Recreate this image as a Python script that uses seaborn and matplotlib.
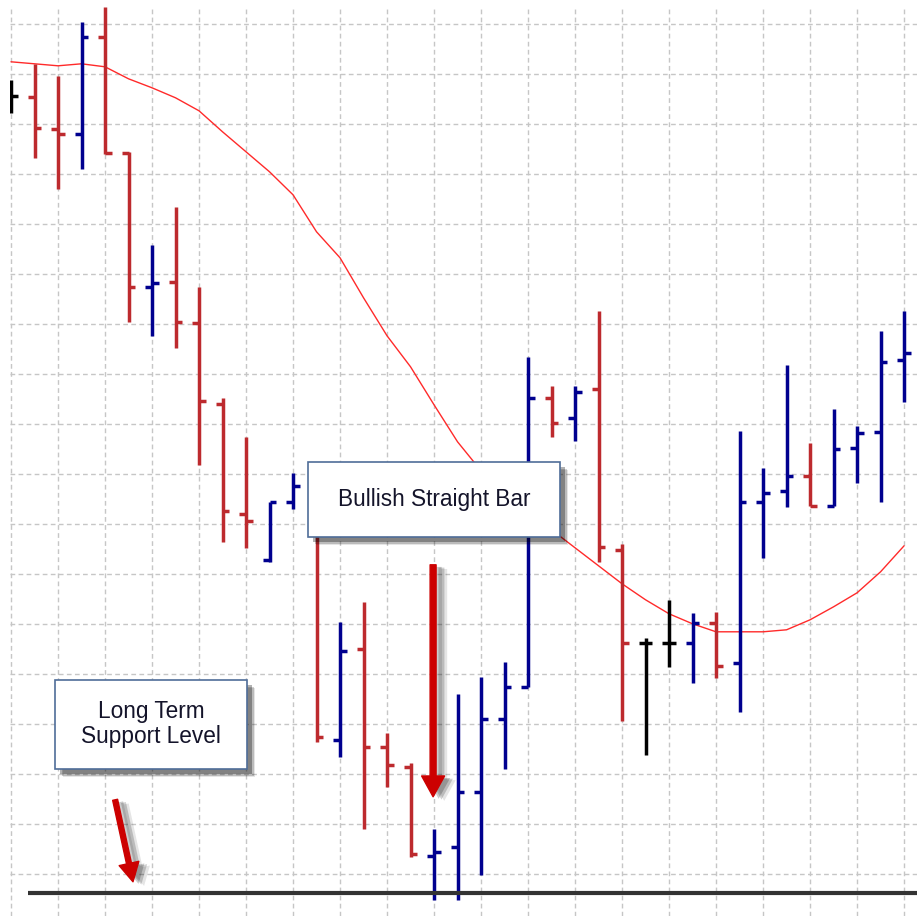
import numpy as np
import pandas as pd
import matplotlib
matplotlib.use("Agg")
import matplotlib.pyplot as plt
import seaborn as sns
from matplotlib.patches import FancyBboxPatch, FancyArrowPatch
import matplotlib.patheffects as pe

# ---------------- data (prices, one entry per bar) ----------------
opens = [115.57, 115.55, 114.91, 114.81, 116.75, 114.43, 111.75, 111.85, 111.03, 109.41,
         107.21, 106.29, 107.45, 107.69, 102.69, 104.51, 102.55, 102.15, 100.37, 100.55,
         101.65, 103.11, 103.75, 109.53, 109.13, 109.71, 106.49, 104.63, 104.63, 104.63,
         105.03, 104.23, 107.45, 107.67, 107.97, 107.37, 108.53, 108.85, 110.29]
highs = [115.89, 116.21, 115.97, 117.05, 117.35, 114.45, 112.59, 113.35, 111.75, 109.53,
         108.75, 107.45, 108.03, 107.89, 105.05, 105.45, 102.83, 102.23, 100.91, 103.61,
         103.95, 104.25, 110.35, 109.77, 109.77, 111.27, 106.61, 104.73, 105.49, 105.23,
         105.25, 108.87, 108.13, 110.19, 108.63, 109.31, 108.97, 110.87, 111.27]
lows = [115.23, 114.33, 113.71, 114.11, 114.41, 111.05, 110.77, 110.53, 108.19, 106.65,
        106.53, 106.25, 107.31, 102.65, 102.35, 100.91, 101.75, 100.35, 99.49, 99.49,
        99.99, 102.11, 103.75, 108.75, 108.67, 106.25, 103.07, 102.39, 104.15, 103.83,
        103.93, 103.25, 106.33, 107.35, 107.37, 107.37, 107.83, 107.45, 109.45]
closes = [115.57, 114.93, 114.81, 116.75, 114.43, 111.75, 111.83, 111.05, 109.47, 107.27,
          107.07, 107.45, 107.77, 102.75, 104.47, 102.55, 102.19, 100.41, 100.45, 101.65,
          103.11, 103.75, 109.53, 109.03, 109.65, 106.55, 104.63, 104.63, 104.63, 105.03,
          104.17, 107.45, 107.63, 107.97, 107.37, 108.51, 108.83, 110.25, 110.43]
moving_avg = [116.25, 116.21, 116.17, 116.21, 116.15, 115.91, 115.73, 115.53, 115.27, 114.85,
              114.45, 114.05, 113.59, 112.85, 112.33, 111.53, 110.77, 110.15, 109.39, 108.65,
              108.07, 107.69, 107.29, 106.89, 106.53, 106.17, 105.81, 105.49, 105.21, 105.01,
              104.85, 104.85, 104.85, 104.89, 105.09, 105.35, 105.63, 106.05, 106.57]

support_level = 99.63
support_start = 0.72

label_bullish = "Bullish Straight Bar"
label_support = "Long Term\nSupport Level"

# annotation placements (bar index, price)
box_bullish = (12.64, 106.75, 23.36, 108.25)
box_support = (1.87, 102.11, 10.04, 103.89)
arrow_bullish = ((17.96, 106.19), (17.96, 101.55))
arrow_support = ((4.43, 101.49), (5.19, 99.85))

# ---------------- styling ----------------
RED = "#BD2A2E"
BLUE = "#00008F"
BLACK = "#000000"
MA_RED = "#FF2A2A"
GRID = "#C6C6C6"
BOX_EDGE = "#4F6D98"
TEXT = "#14142a"

sns.set_theme(style="white")
plt.rcParams["font.family"] = ["Liberation Sans", "DejaVu Sans"]

df = pd.DataFrame({"open": opens, "high": highs, "low": lows, "close": closes, "ma": moving_avg})
df["idx"] = np.arange(len(df))
df["color"] = np.where(df["close"] > df["open"], BLUE,
                       np.where(df["close"] < df["open"], RED, BLACK))

fig = plt.figure(figsize=(9.17, 9.16), dpi=100)
ax = fig.add_axes([10 / 917, 0, 907 / 917, 909 / 916])
ax.set_facecolor("white")
fig.patch.set_facecolor("white")

ax.set_xlim(-0.043, 38.55)
ax.set_ylim(99.166, 117.346)

ax.set_xticks(np.arange(0, 39, 2))
ax.set_yticks(np.arange(100, 118, 1))
ax.grid(True, color=GRID, linewidth=1.0, linestyle=(0, (3.4, 2.4)), zorder=0)
ax.tick_params(length=0, labelbottom=False, labelleft=False)
for s in ax.spines.values():
    s.set_visible(False)
ax.set_axisbelow(True)

# moving average
sns.lineplot(data=df, x="idx", y="ma", ax=ax, color=MA_RED, linewidth=1.0, zorder=2,
             estimator=None, sort=False, legend=False)

# OHLC bars
tw = 0.28
lw = 2.5
ax.vlines(df["idx"], df["low"], df["high"], colors=df["color"], linewidth=lw, zorder=3,
          capstyle="butt")
ax.hlines(df["open"], df["idx"] - tw, df["idx"], colors=df["color"], linewidth=lw, zorder=3)
ax.hlines(df["close"], df["idx"], df["idx"] + tw, colors=df["color"], linewidth=lw, zorder=3)

# support line
ax.hlines(support_level, support_start, 38.55, colors="#333333", linewidth=3.0, zorder=4,
          capstyle="butt")

shadow_fx = [
    pe.SimplePatchShadow(offset=(6.0, -6.0), shadow_rgbFace="#000000", alpha=0.10),
    pe.SimplePatchShadow(offset=(5.0, -5.0), shadow_rgbFace="#000000", alpha=0.18),
    pe.SimplePatchShadow(offset=(3.5, -3.5), shadow_rgbFace="#000000", alpha=0.30),
    pe.Normal(),
]


def draw_box(box, text):
    x0, y0, x1, y1 = box
    p = FancyBboxPatch((x0, y0), x1 - x0, y1 - y0, boxstyle="square,pad=0",
                       facecolor="white", edgecolor=BOX_EDGE, linewidth=1.2, zorder=6,
                       path_effects=shadow_fx)
    ax.add_patch(p)
    ax.text((x0 + x1) / 2, (y0 + y1) / 2, text, ha="center", va="center", fontsize=16.3,
            color=TEXT, zorder=7, linespacing=1.1)


draw_box(box_bullish, label_bullish)
draw_box(box_support, label_support)

arrow_fx = [
    pe.SimplePatchShadow(offset=(8, -3), shadow_rgbFace="#000000", alpha=0.10),
    pe.SimplePatchShadow(offset=(6, -2), shadow_rgbFace="#000000", alpha=0.18),
    pe.SimplePatchShadow(offset=(4, -1.5), shadow_rgbFace="#000000", alpha=0.20),
    pe.Normal(),
]


def draw_arrow(pts, tail, hw, hl):
    (xa, ya), (xb, yb) = pts
    a = FancyArrowPatch((xa, ya), (xb, yb),
                        arrowstyle=f"simple,head_length={hl},head_width={hw},tail_width={tail}",
                        mutation_scale=1, shrinkA=0, shrinkB=0, color="#CC0000",
                        zorder=8, path_effects=arrow_fx)
    ax.add_patch(a)


draw_arrow(arrow_bullish, 4.3, 16.5, 15.0)
draw_arrow(arrow_support, 3.6, 14.5, 13.5)

fig.savefig("out.png", dpi=100, facecolor="white")
